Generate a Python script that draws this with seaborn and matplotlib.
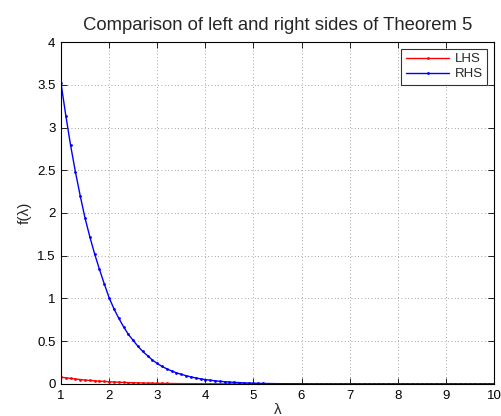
import numpy as np
import pandas as pd
import matplotlib
matplotlib.use("Agg")
import matplotlib.pyplot as plt
import matplotlib.ticker as mticker
import seaborn as sns

# valeurs (pas de 0.1 entre 1 et 10)
lam = np.round(np.arange(1.0, 10.01, 0.1), 1)

rhs = [3.52, 3.14, 2.79, 2.48, 2.20, 1.94, 1.72, 1.52, 1.34, 1.17,
       1.01, 0.88, 0.77, 0.67, 0.58, 0.51, 0.44, 0.38, 0.33, 0.28,
       0.24, 0.205, 0.177, 0.152, 0.131, 0.113, 0.097, 0.083, 0.071, 0.060,
       0.051, 0.044, 0.037, 0.031, 0.026, 0.022, 0.019, 0.016, 0.013, 0.011,
       0.009, 0.0075, 0.0063, 0.0052, 0.0043, 0.0036, 0.003, 0.0025, 0.002, 0.0017,
       0.0014, 0.0012, 0.001, 0.0008, 0.0007, 0.0006, 0.0005, 0.0004, 0.0003, 0.0003,
       0.0002, 0.0002, 0.0001, 0.0001, 0.0001, 0.0001, 0.0, 0.0, 0.0, 0.0,
       0.0, 0.0, 0.0, 0.0, 0.0, 0.0, 0.0, 0.0, 0.0, 0.0,
       0.0, 0.0, 0.0, 0.0, 0.0, 0.0, 0.0, 0.0, 0.0, 0.0,
       0.0]

lhs = [0.080, 0.072, 0.065, 0.058, 0.052, 0.046, 0.041, 0.037, 0.033, 0.029,
       0.026, 0.023, 0.021, 0.018, 0.016, 0.014, 0.013, 0.011, 0.010, 0.009,
       0.008, 0.007, 0.006, 0.005, 0.0045, 0.004, 0.0035, 0.003, 0.0026, 0.0023,
       0.002, 0.0017, 0.0015, 0.0013, 0.0011, 0.001, 0.0008, 0.0007, 0.0006, 0.0005,
       0.0004, 0.0004, 0.0003, 0.0003, 0.0002, 0.0002, 0.0002, 0.0001, 0.0001, 0.0001,
       0.0001, 0.0, 0.0, 0.0, 0.0, 0.0, 0.0, 0.0, 0.0, 0.0,
       0.0, 0.0, 0.0, 0.0, 0.0, 0.0, 0.0, 0.0, 0.0, 0.0,
       0.0, 0.0, 0.0, 0.0, 0.0, 0.0, 0.0, 0.0, 0.0, 0.0,
       0.0, 0.0, 0.0, 0.0, 0.0, 0.0, 0.0, 0.0, 0.0, 0.0,
       0.0]

x_ticks = [1, 2, 3, 4, 5, 6, 7, 8, 9, 10]
y_ticks = [0, 0.5, 1, 1.5, 2, 2.5, 3, 3.5, 4]

df = pd.DataFrame({"lam": np.concatenate([lam, lam]),
                   "f": lhs + rhs,
                   "side": ["LHS"] * len(lam) + ["RHS"] * len(lam)})

sns.set_style("white")
plt.rcParams["font.family"] = ["Liberation Sans", "DejaVu Sans"]

fig = plt.figure(figsize=(5.02, 4.16), dpi=100)
ax = fig.add_axes([0.1215, 0.077, 0.8625, 0.822])

sns.lineplot(data=df, x="lam", y="f", hue="side",
             palette={"LHS": "#ff0000", "RHS": "#0000ff"},
             marker=".", markersize=4, markeredgewidth=0,
             linewidth=1.0, ax=ax)

ax.set_xlim(1, 10)
ax.set_ylim(0, 4)
ax.set_xticks(x_ticks)
ax.set_yticks(y_ticks)
ax.yaxis.set_major_formatter(mticker.FormatStrFormatter("%g"))
ax.tick_params(direction="in", length=4, width=0.6, labelsize=9.5, pad=4,
               top=True, right=True, bottom=True, left=True, colors="black")
ax.grid(True, linestyle=(0, (1, 3)), color="#888888", linewidth=0.6)
for s in ax.spines.values():
    s.set_color("black")
    s.set_linewidth(0.8)

ax.set_title("Comparison of left and right sides of Theorem 5", fontsize=13.3, pad=9)
ax.set_xlabel("λ", fontsize=11, labelpad=1)
ax.set_ylabel("f(λ)", fontsize=11, labelpad=4)

leg = ax.legend(loc="upper right", fontsize=9.5, frameon=True, fancybox=False,
                borderpad=0.35, handlelength=3.3, handletextpad=0.4,
                labelspacing=0.2, borderaxespad=0.5, title=None)
leg.get_frame().set_edgecolor("black")
leg.get_frame().set_linewidth(0.8)

fig.savefig("out.png", dpi=100, facecolor="white")
